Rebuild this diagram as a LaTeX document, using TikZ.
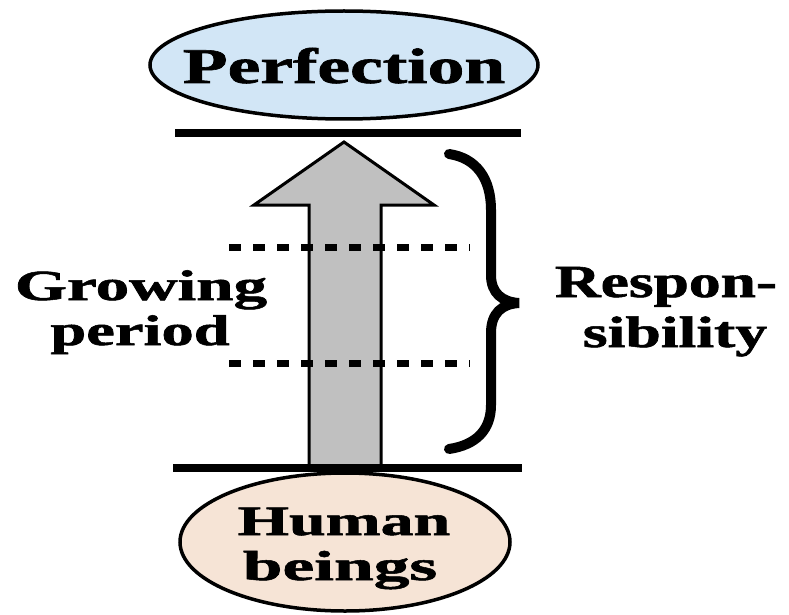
\documentclass[tikz,border=0pt]{standalone}
\usepackage{fontspec}
\setmainfont{Liberation Serif}
\newfontfamily\heavyserif[FakeBold=1.2]{Liberation Serif Bold}
\usepackage{graphicx}
\usetikzlibrary{shapes.geometric}
\definecolor{perfblue}{RGB}{210,230,246}
\definecolor{humanpeach}{RGB}{246,228,214}
\definecolor{arrowgray}{RGB}{192,192,192}
\newcommand{\wtext}[3]{\scalebox{#2}[1]{\fontsize{#1}{#1}\heavyserif #3}}
\begin{document}
\begin{tikzpicture}[x=1pt,y=-1pt,
  lbl/.style={inner sep=0pt, outer sep=0pt, anchor=base},
  oval/.style={ellipse, draw=black, line width=3.5pt, inner sep=0pt},
  bar/.style={line width=7.5pt},
  dots/.style={line width=7pt, dash pattern=on 12pt off 12pt},
  bigarrow/.style={fill=arrowgray, draw=black, line width=3pt, line join=miter},
  bracestyle/.style={line width=10pt, line cap=round}]
\useasboundingbox[fill=white] (0,0) rectangle (789,615);

% ellipses
\node[oval, fill=perfblue, minimum width=388pt, minimum height=108pt] (perf) at (344,65) {};
\node[oval, fill=humanpeach, minimum width=330pt, minimum height=138pt] (human) at (345,542) {};

% horizontal bars
\coordinate (topL) at (175,133);
\coordinate (topR) at (521,133);
\coordinate (botL) at (173,468);
\coordinate (botR) at (522,468);

% block arrow
\coordinate (tip) at (344,142);
\coordinate (hl) at (254,205);
\coordinate (hr) at (434,205);
\coordinate (sl) at (309,205);
\coordinate (sr) at (381,205);
\coordinate (bl) at (309,468);
\coordinate (br) at (381,468);
\draw[bigarrow] (bl) -- (sl) -- (hl) -- (tip) -- (hr) -- (sr) -- (br) -- cycle;

\draw[bar] (topL) -- (topR);
\draw[bar] (botL) -- (botR);

% dotted lines
\coordinate (d1a) at (229,247);
\coordinate (d1b) at (470,247);
\coordinate (d2a) at (229,363);
\coordinate (d2b) at (470,363);
\draw[dots] (d1a) -- (d1b);
\draw[dots] (d2a) -- (d2b);

% brace
\coordinate (brTop) at (449,154);
\coordinate (brTip) at (519,303);
\coordinate (brBot) at (449,449);
\draw[bracestyle] (brTop) .. controls (476,158) and (491,178) .. (491,210) -- (491,275)
  .. controls (491,293) and (502,302) .. (brTip)
  .. controls (502,304) and (491,313) .. (491,333) -- (491,405)
  .. controls (491,430) and (476,445) .. (brBot);

% labels
\node[lbl] (tperf) at (344,83) {\wtext{50}{1.47}{Perfection}};
\node[lbl] (tgrow) at (141,300) {\wtext{43}{1.56}{Growing}};
\node[lbl] (tper) at (140,345) {\wtext{43}{1.5}{period}};
\node[lbl] (tresp) at (666,297) {\wtext{46}{1.38}{Respon-}};
\node[lbl] (tsib) at (675,347) {\wtext{44}{1.45}{sibility}};
\node[lbl] (thum) at (344,535) {\wtext{42}{1.57}{Human}};
\node[lbl] (tbei) at (340,580) {\wtext{42}{1.7}{beings}};
\end{tikzpicture}
\end{document}
